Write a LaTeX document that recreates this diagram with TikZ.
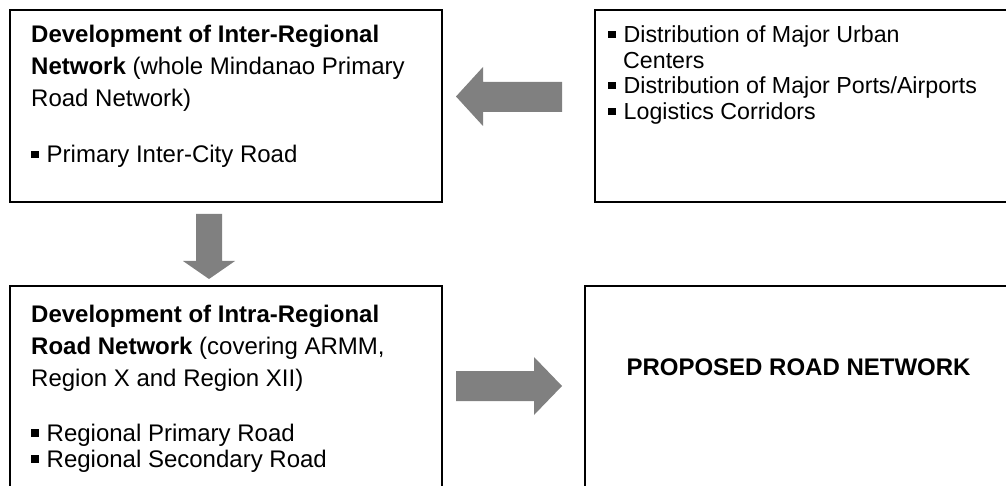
\documentclass[tikz,border=0pt]{standalone}
\usepackage{fontspec}
\setmainfont{Liberation Sans}
\definecolor{arrowgray}{HTML}{808080}
\newcommand{\bul}{\raisebox{4.5pt}{\rule{7.5pt}{7.5pt}}\hspace{8pt}}
\begin{document}
\begin{tikzpicture}[x=1pt,y=-1pt,
  box/.style={draw=black, line width=2pt, inner sep=0pt, anchor=north west},
  txt/.style={anchor=base west, inner sep=0pt, font=\fontsize{24}{28}\selectfont},
  txtb/.style={anchor=base west, inner sep=0pt, font=\fontsize{23.2}{27}\selectfont},
  blockarrow/.style={fill=arrowgray, draw=none}]
\useasboundingbox (0,0) rectangle (1006,486);
\clip (0,0) rectangle (1006,486);
\fill[white] (0,0) rectangle (1006,486);
% boxes
\node[box, minimum width=432pt, minimum height=192pt] (A) at (9,9) {};
\node[box, minimum width=420pt, minimum height=192pt] (B) at (594,9) {};
\node[box, minimum width=432pt, minimum height=210pt] (C) at (9,285) {};
\node[box, minimum width=430pt, minimum height=210pt] (D) at (584,285) {};
% box A text
\node[txt] (a1) at (31,43) {\textbf{Development of Inter-Regional}};
\node[txt] (a2) at (31,75) {\textbf{Network} (whole Mindanao Primary};
\node[txt] (a3) at (31,107) {Road Network)};
\node[txt] (a4) at (31,163) {\bul Primary Inter-City Road};
% box B text
\node[txtb] (b1) at (608,43) {\bul Distribution of Major Urban};
\node[txtb] (b2) at (623,68.5) {Centers};
\node[txtb] (b3) at (608,94) {\bul Distribution of Major Ports/Airports};
\node[txtb] (b4) at (608,120) {\bul Logistics Corridors};
% box C text
\node[txt] (c1) at (31,322) {\textbf{Development of Intra-Regional}};
\node[txt] (c2) at (31,354) {\textbf{Road Network} (covering ARMM,};
\node[txt] (c3) at (31,386) {Region X and Region XII)};
\node[txt] (c4) at (31,441) {\bul Regional Primary Road};
\node[txt] (c5) at (31,467) {\bul Regional Secondary Road};
% box D text
\node[txt, anchor=base] (d1) at (798.5,375) {\textbf{PROPOSED ROAD NETWORK}};
% block arrows
\fill[blockarrow] (562,82) -- (483,82) -- (483,67) -- (456,96.5) -- (483,126) -- (483,112) -- (562,112) -- cycle;
\fill[blockarrow] (196,214) -- (222,214) -- (222,261) -- (235,261) -- (209,279) -- (183,261) -- (196,261) -- cycle;
\fill[blockarrow] (456,371) -- (534,371) -- (534,357) -- (562,386) -- (534,415) -- (534,401) -- (456,401) -- cycle;
\end{tikzpicture}
\end{document}
